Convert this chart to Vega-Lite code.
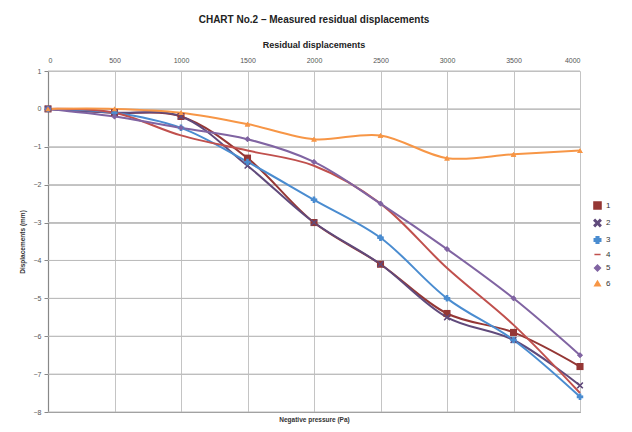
{
  "$schema": "https://vega.github.io/schema/vega-lite/v6.json",
  "autosize": "none",
  "width": 532,
  "height": 341,
  "padding": {"left": 48, "top": 71, "right": 52, "bottom": 20},
  "background": "white",
  "config": {
    "font": "Liberation Sans",
    "view": {"stroke": null},
    "axis": {"labelFont": "Liberation Sans", "labelFontSize": 7, "labelColor": "#555", "gridColor": "#c4c4c4", "gridWidth": 1, "domainColor": "#888", "tickColor": "#888", "titleFont": "Liberation Sans", "titleFontSize": 6.5, "titleFontWeight": "bold", "titleColor": "#333", "labelOverlap": false}
  },
  "title": {
    "text": "CHART No.2 – Measured residual displacements",
    "subtitle": "Residual displacements",
    "fontSize": 10,
    "fontWeight": "bold",
    "color": "#222",
    "subtitleFontSize": 9,
    "subtitleFontWeight": "bold",
    "subtitleColor": "#222",
    "subtitlePadding": 16,
    "anchor": "middle",
    "offset": 6
  },
  "datasets": {
    "grid": [{"g": -8}, {"g": -7}, {"g": -6}, {"g": -5}, {"g": -4}, {"g": -3}, {"g": -2}, {"g": -1}, {"g": 0}, {"g": 1}],
    "series": [
      {"p": 0, "d": 0, "s": "1"}, {"p": 500, "d": -0.1, "s": "1"}, {"p": 1000, "d": -0.2, "s": "1"}, {"p": 1500, "d": -1.3, "s": "1"}, {"p": 2000, "d": -3.0, "s": "1"}, {"p": 2500, "d": -4.1, "s": "1"}, {"p": 3000, "d": -5.4, "s": "1"}, {"p": 3500, "d": -5.9, "s": "1"}, {"p": 4000, "d": -6.8, "s": "1"},
      {"p": 0, "d": 0, "s": "2"}, {"p": 500, "d": -0.1, "s": "2"}, {"p": 1000, "d": -0.2, "s": "2"}, {"p": 1500, "d": -1.5, "s": "2"}, {"p": 2000, "d": -3.0, "s": "2"}, {"p": 2500, "d": -4.1, "s": "2"}, {"p": 3000, "d": -5.5, "s": "2"}, {"p": 3500, "d": -6.1, "s": "2"}, {"p": 4000, "d": -7.3, "s": "2"},
      {"p": 0, "d": 0, "s": "3"}, {"p": 500, "d": -0.1, "s": "3"}, {"p": 1000, "d": -0.5, "s": "3"}, {"p": 1500, "d": -1.4, "s": "3"}, {"p": 2000, "d": -2.4, "s": "3"}, {"p": 2500, "d": -3.4, "s": "3"}, {"p": 3000, "d": -5.0, "s": "3"}, {"p": 3500, "d": -6.1, "s": "3"}, {"p": 4000, "d": -7.6, "s": "3"},
      {"p": 0, "d": 0, "s": "4"}, {"p": 500, "d": -0.1, "s": "4"}, {"p": 1000, "d": -0.7, "s": "4"}, {"p": 1500, "d": -1.1, "s": "4"}, {"p": 2000, "d": -1.5, "s": "4"}, {"p": 2500, "d": -2.5, "s": "4"}, {"p": 3000, "d": -4.2, "s": "4"}, {"p": 3500, "d": -5.7, "s": "4"}, {"p": 4000, "d": -7.5, "s": "4"},
      {"p": 0, "d": 0, "s": "5"}, {"p": 500, "d": -0.2, "s": "5"}, {"p": 1000, "d": -0.5, "s": "5"}, {"p": 1500, "d": -0.8, "s": "5"}, {"p": 2000, "d": -1.4, "s": "5"}, {"p": 2500, "d": -2.5, "s": "5"}, {"p": 3000, "d": -3.7, "s": "5"}, {"p": 3500, "d": -5.0, "s": "5"}, {"p": 4000, "d": -6.5, "s": "5"},
      {"p": 0, "d": 0, "s": "6"}, {"p": 500, "d": 0, "s": "6"}, {"p": 1000, "d": -0.1, "s": "6"}, {"p": 1500, "d": -0.4, "s": "6"}, {"p": 2000, "d": -0.8, "s": "6"}, {"p": 2500, "d": -0.7, "s": "6"}, {"p": 3000, "d": -1.3, "s": "6"}, {"p": 3500, "d": -1.2, "s": "6"}, {"p": 4000, "d": -1.1, "s": "6"}
    ]
  },
  "layer": [
    {
      "data": {"name": "grid"},
      "mark": {"type": "rule", "color": "#bbbbbb", "strokeWidth": 1},
      "encoding": {
        "x": {"datum": 0, "type": "quantitative", "axis": null},
        "x2": {"datum": 4000},
        "y": {"field": "g", "type": "quantitative", "axis": null}
      }
    },
    {
      "data": {"name": "series"},
      "mark": {"type": "line", "interpolate": "catmull-rom", "strokeWidth": 2},
      "encoding": {
        "x": {"field": "p", "type": "quantitative", "scale": {"domain": [0, 4000], "nice": false, "zero": false},
          "axis": {"orient": "top", "values": [0, 500, 1000, 1500, 2000, 2500, 3000, 3500, 4000], "format": "d", "title": null, "domain": false, "ticks": false, "labelPadding": 8, "grid": true}},
        "y": {"field": "d", "type": "quantitative", "scale": {"domain": [-8, 1], "nice": false, "zero": false},
          "axis": {"orient": "left", "values": [-8, -7, -6, -5, -4, -3, -2, -1, 0, 1], "grid": true, "title": "Displacements (mm)", "titlePadding": 8, "tickSize": 4, "labelPadding": 3, "domainWidth": 1.2}},
        "color": {"field": "s", "type": "nominal", "scale": {"domain": ["1", "2", "3", "4", "5", "6"], "range": ["#953735", "#604A7B", "#4A8CD0", "#C0504D", "#8064A2", "#F79646"]},
          "legend": {"title": null, "orient": "none", "legendX": 545, "legendY": 130, "labelFontSize": 8, "labelColor": "#333", "rowPadding": 3.5, "symbolSize": 35}},
        "shape": {"field": "s", "type": "nominal", "scale": {"domain": ["1", "2", "3", "4", "5", "6"], "range": ["square", "M-1,-0.7L-0.7,-1L0,-0.3L0.7,-1L1,-0.7L0.3,0L1,0.7L0.7,1L0,0.3L-0.7,1L-1,0.7L-0.3,0Z", "cross", "stroke", "diamond", "triangle-up"]}}
      }
    },
    {
      "data": {"name": "series"},
      "mark": {"type": "point", "filled": true, "size": 30, "opacity": 1},
      "encoding": {
        "x": {"field": "p", "type": "quantitative", "axis": {"orient": "bottom", "title": "Negative pressure (Pa)", "labels": false, "ticks": false, "grid": false, "domainColor": "#888", "titlePadding": 4}},
        "y": {"field": "d", "type": "quantitative", "axis": null},
        "color": {"field": "s", "type": "nominal"},
        "shape": {"field": "s", "type": "nominal"},
        "size": {"field": "s", "type": "nominal", "scale": {"domain": ["1", "2", "3", "4", "5", "6"], "range": [50, 30, 18, 1, 30, 40]}, "legend": null}
      }
    }
  ],
  "resolve": {"axis": {"x": "independent", "y": "independent"}}
}
